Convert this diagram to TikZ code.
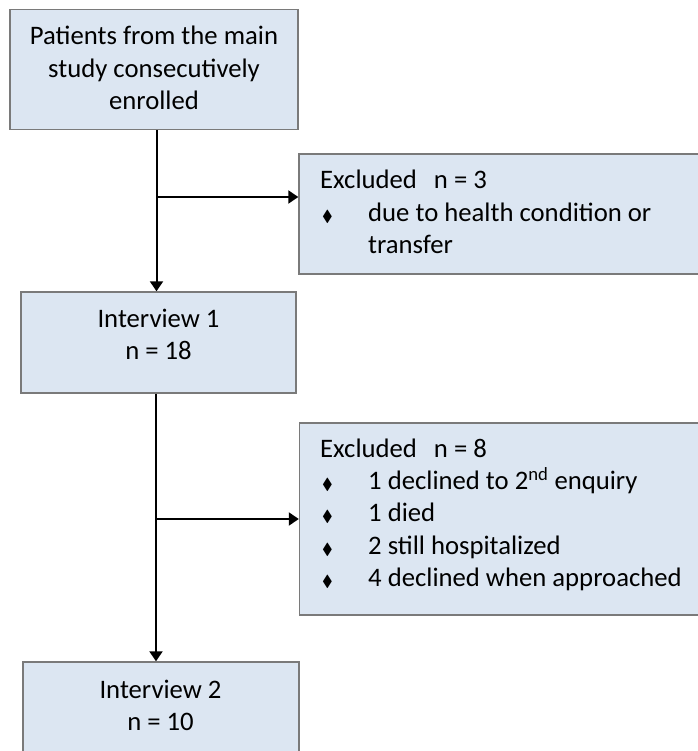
\documentclass[tikz,border=0pt]{standalone}
\usepackage{amssymb}
\usepackage{fontspec}
\setmainfont{Carlito}
\usetikzlibrary{arrows.meta}

\definecolor{boxfill}{HTML}{DCE6F2}
\definecolor{boxline}{HTML}{7A7A7A}

% small diamond used as list marker
\newcommand{\dmark}{{\fontsize{16}{16}\selectfont$\blacklozenge$}}
\newcommand{\itm}[1]{\makebox[48pt][l]{\hspace{2pt}\dmark}#1}

\begin{document}
\begin{tikzpicture}[x=1pt,y=-1pt,
  box/.style={draw=boxline,fill=boxfill,line width=1.4pt,inner sep=0pt},
  txt/.style={inner sep=0pt,font=\fontsize{26.7}{32.4}\selectfont},
  arr/.style={line width=2pt,-{Triangle[length=10pt,width=13pt]}}]
  \useasboundingbox (0,0) rectangle (697,751);

  % boxes
  \node[box,minimum width=288pt,minimum height=120pt] (b1) at (154,69.5) {};
  \node[box,minimum width=406pt,minimum height=120pt] (e1) at (502,214) {};
  \node[box,minimum width=275pt,minimum height=101pt] (b2) at (158.5,342.5) {};
  \node[box,minimum width=406pt,minimum height=192pt] (e2) at (502.5,519) {};
  \node[box,minimum width=276pt,minimum height=91pt] (b3) at (161,707.5) {};

  % texts
  \node[txt,anchor=base] (t1) at (154,45)
    {\begin{tabular}[t]{@{}c@{}}Patients from the main\\study consecutively\\enrolled\end{tabular}};
  \node[txt,anchor=base west] (t2) at (320,189)
    {\begin{tabular}[t]{@{}l@{}}Excluded\hspace{17pt}n = 3\\\itm{due to health condition or}\\\hspace{48pt}transfer\end{tabular}};
  \node[txt,anchor=base] (t3) at (158.5,327)
    {\begin{tabular}[t]{@{}c@{}}Interview 1\\n = 18\end{tabular}};
  \node[txt,anchor=base west] (t4) at (320,457)
    {\begin{tabular}[t]{@{}l@{}}Excluded\hspace{17pt}n = 8\\\itm{1 declined to 2\textsuperscript{nd} enquiry}\\\itm{1 died}\\\itm{2 still hospitalized}\\\itm{4 declined when approached}\end{tabular}};
  \node[txt,anchor=base] (t5) at (160.5,698)
    {\begin{tabular}[t]{@{}c@{}}Interview 2\\n = 10\end{tabular}};

  % connectors
  \coordinate (s1) at ([xshift=2.5pt]b1.south);
  \coordinate (j1) at (s1 |- 0,197);
  \draw[arr] (s1) -- (s1 |- b2.north);
  \draw[arr] (j1) -- (j1 -| e1.west);

  \coordinate (s2) at ([xshift=-2.5pt]b2.south);
  \coordinate (j2) at (s2 |- e2.west);
  \draw[arr] (s2) -- (s2 |- b3.north);
  \draw[arr] (j2) -- (e2.west);
\end{tikzpicture}
\end{document}
